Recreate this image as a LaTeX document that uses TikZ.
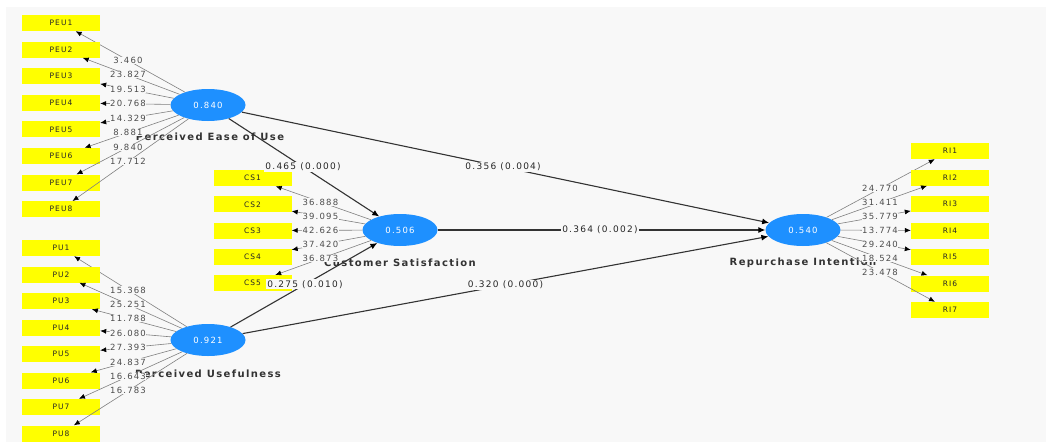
\documentclass[tikz,border=0pt]{standalone}
\usepackage{fontspec}
\setmainfont{DejaVu Sans}
\newfontfamily\lblfont[LetterSpace=14]{DejaVu Sans}
\usetikzlibrary{calc,arrows.meta,shapes.geometric}
\definecolor{bg}{HTML}{F8F8F8}
\definecolor{lv}{HTML}{1E90FF}
\definecolor{ind}{HTML}{FFFF00}
\tikzset{
  lvnode/.style={ellipse, fill=lv, minimum width=75, minimum height=32, inner sep=0, text=white, font=\lblfont\fontsize{8.5}{9}\selectfont},
  indbox/.style={rectangle, fill=ind, minimum width=78, minimum height=16, inner sep=0, text=black!85, font=\lblfont\fontsize{7.5}{8}\selectfont},
  load/.style={draw=black!50, line width=0.6, -{Latex[length=6,width=5,color=black]}},
  spath/.style={draw=black!80, line width=1.1, -{Latex[length=7,width=6,color=black]}},
  lnum/.style={fill=bg, inner sep=0.4, text=black!70, font=\lblfont\fontsize{8.5}{9}\selectfont},
  plab/.style={fill=bg, inner sep=1, text=black!85, font=\lblfont\fontsize{9}{10}\selectfont},
  cname/.style={font=\lblfont\bfseries\fontsize{10}{11}\selectfont, text=black!80}
}
\begin{document}
\begin{tikzpicture}[x=1pt,y=-1pt]
\useasboundingbox (0,0) rectangle (1046,442);
\fill[white] (0,0) rectangle (1046,442);
\fill[bg] (6,7) rectangle (1046,442);

% latent variables
\node[lvnode] (peu) at (208,105) {0.840};
\node[lvnode] (cs) at (400,230) {0.506};
\node[lvnode] (pu) at (208,340) {0.921};
\node[lvnode] (ri) at (803,230) {0.540};
\node[cname] (peun) at (210,137) {Perceived Ease of Use};
\node[cname] (csn) at (400,263) {Customer Satisfaction};
\node[cname] (pun) at (208,374) {Perceived Usefulness};
\node[cname] (rin) at (803,263) {Repurchase Intention};

% indicators
\foreach \i in {1,...,8} {
  \node[indbox] (peu\i) at (61,{23+(\i-1)*26.6}) {PEU\i};
  \draw[load] (peu) -- (peu\i);
  \node[indbox] (pu\i) at (61,{248+(\i-1)*26.5}) {PU\i};
  \draw[load] (pu) -- (pu\i);
}
\foreach \i in {1,...,5} {
  \node[indbox] (cs\i) at (252.5,{178+(\i-1)*26.3}) {CS\i};
  \draw[load] (cs) -- (cs\i);
}
\foreach \i in {1,...,7} {
  \node[indbox] (ri\i) at (950,{151+(\i-1)*26.5}) {RI\i};
  \draw[load] (ri) -- (ri\i);
}

% structural paths
\draw[spath] (peu) -- (cs);
\draw[spath] (pu) -- (cs);
\draw[spath] (peu) -- (ri);
\draw[spath] (cs) -- (ri);
\draw[spath] (pu) -- (ri);

% loading labels
\foreach \v [count=\i] in {3.460,23.827,19.513,20.768,14.329,8.881,9.840,17.712}
  \node[lnum] at ($(peu)!0.544!(peu\i)$) {\v};
\foreach \v [count=\i] in {15.368,25.251,11.788,26.080,27.393,24.837,16.643,16.783}
  \node[lnum] at ($(pu)!0.544!(pu\i)$) {\v};
\foreach \v [count=\i] in {36.888,39.095,42.626,37.420,36.873}
  \node[lnum] at ($(cs)!0.54!(cs\i)$) {\v};
\foreach \v [count=\i] in {24.770,31.411,35.779,13.774,29.240,18.524,23.478}
  \node[lnum] at ($(ri)!0.524!(ri\i)$) {\v};

% path labels
\node[plab] at ($(peu)!0.495!(cs)$) {0.465 (0.000)};
\node[plab] at ($(pu)!0.505!(cs)$) {0.275 (0.010)};
\node[plab] at ($(peu)!0.496!(ri)$) {0.356 (0.004)};
\node[plab] at ($(cs)!0.496!(ri)$) {0.364 (0.002)};
\node[plab] at ($(pu)!0.5!(ri)$) {0.320 (0.000)};
\end{tikzpicture}
\end{document}
